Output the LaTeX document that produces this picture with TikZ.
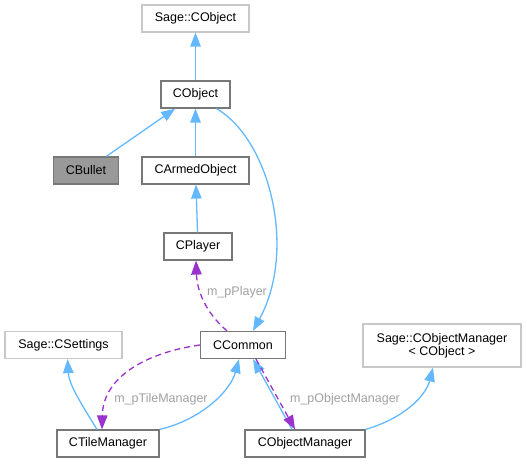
\documentclass[tikz,border=0pt]{standalone}
\usepackage{fontspec}
\setmainfont{Liberation Sans}
\usetikzlibrary{arrows.meta}
\definecolor{inhblue}{HTML}{63B8FF}
\definecolor{usepurple}{HTML}{9A32CD}
\definecolor{boxgray}{HTML}{777777}
\definecolor{extgray}{HTML}{C8C8C8}
\definecolor{lblgray}{HTML}{A0A0A0}
\definecolor{curfill}{HTML}{999999}
\begin{document}
\begin{tikzpicture}[x=1pt, y=-1pt, font=\fontsize{12.5}{15}\selectfont,
		cls/.style={draw=boxgray, line width=1.2pt, fill=white, minimum height=27pt, inner sep=0pt},
		extcls/.style={cls, draw=extgray},
		curcls/.style={cls, fill=curfill},
		inh/.style={draw=inhblue, line width=1.3pt, -{Triangle[length=14pt,width=10.5pt]}},
		use/.style={draw=usepurple, line width=1.3pt, dash pattern=on 6pt off 4pt, -{Triangle[length=14pt,width=10.5pt]}},
		lbl/.style={text=lblgray, inner sep=1pt}]
			\useasboundingbox (0,0) rectangle (527,463);
			
			%classes
			\node[extcls, minimum width=107pt] (sobj) at (195.5, 18.5){Sage::CObject};
			\node[cls, minimum width=69pt] (obj) at (195.5, 94.5){CObject};
			\node[curcls, minimum width=65pt] (bullet) at (86, 170.5){CBullet};
			\node[cls, minimum width=107pt] (armed) at (195.5, 170.5){CArmedObject};
			\node[cls, minimum width=68pt] (player) at (198, 246.5){CPlayer};
			\node[cls, minimum width=85pt] (common) at (243, 345){CCommon};
			\node[extcls, minimum width=117pt] (sset) at (63.5, 345){Sage::CSettings};
			\node[cls, minimum width=102pt] (tile) at (108, 443.5){CTileManager};
			\node[cls, minimum width=120pt] (objmgr) at (305, 443.5){CObjectManager};
			\node[extcls, minimum width=158pt, minimum height=43pt, align=center] (sobjm) at (442, 345.5){Sage::CObjectManager\\[-2pt]\textless{} CObject \textgreater{}};
			
			%inheritance
			\draw[inh] (obj) -- (sobj);
			\draw[inh] (bullet) -- (obj);
			\draw[inh] (armed) -- (obj);
			\draw[inh] (player) -- (armed);
			\draw[inh] ([xshift=21pt]obj.south) .. controls (270,140) and (297,250) .. ([xshift=10pt]common.north);
			\draw[inh] ([xshift=-13pt]objmgr.north) -- ([xshift=10pt]common.south);
			\draw[inh] (tile.north east) .. controls (200,420) and (230,392) .. ([xshift=-4pt]common.south);
			\draw[inh] ([xshift=-11pt]tile.north) .. controls (82,405) and (69,385) .. ([xshift=4pt]sset.south);
			\draw[inh] (objmgr.north east) .. controls (405,418) and (426,395) .. ([xshift=-9pt]sobjm.south);
			
			%members
			\draw[use] ([xshift=-16pt]common.north) .. controls (205,312) and (197,290) .. ([xshift=-2pt]player.south);
			\draw[use] (common.west) .. controls (150,352) and (103,375) .. ([xshift=-6pt]tile.north);
			\draw[use] ([xshift=13pt]common.south) -- ([xshift=-10pt]objmgr.north);
			\node[lbl] (lplayer) at (237, 292){m\_pPlayer};
			\node[lbl] (ltile) at (161, 399){m\_pTileManager};
			\node[lbl] (lobjmgr) at (345, 399){m\_pObjectManager};
		\end{tikzpicture}
\end{document}
